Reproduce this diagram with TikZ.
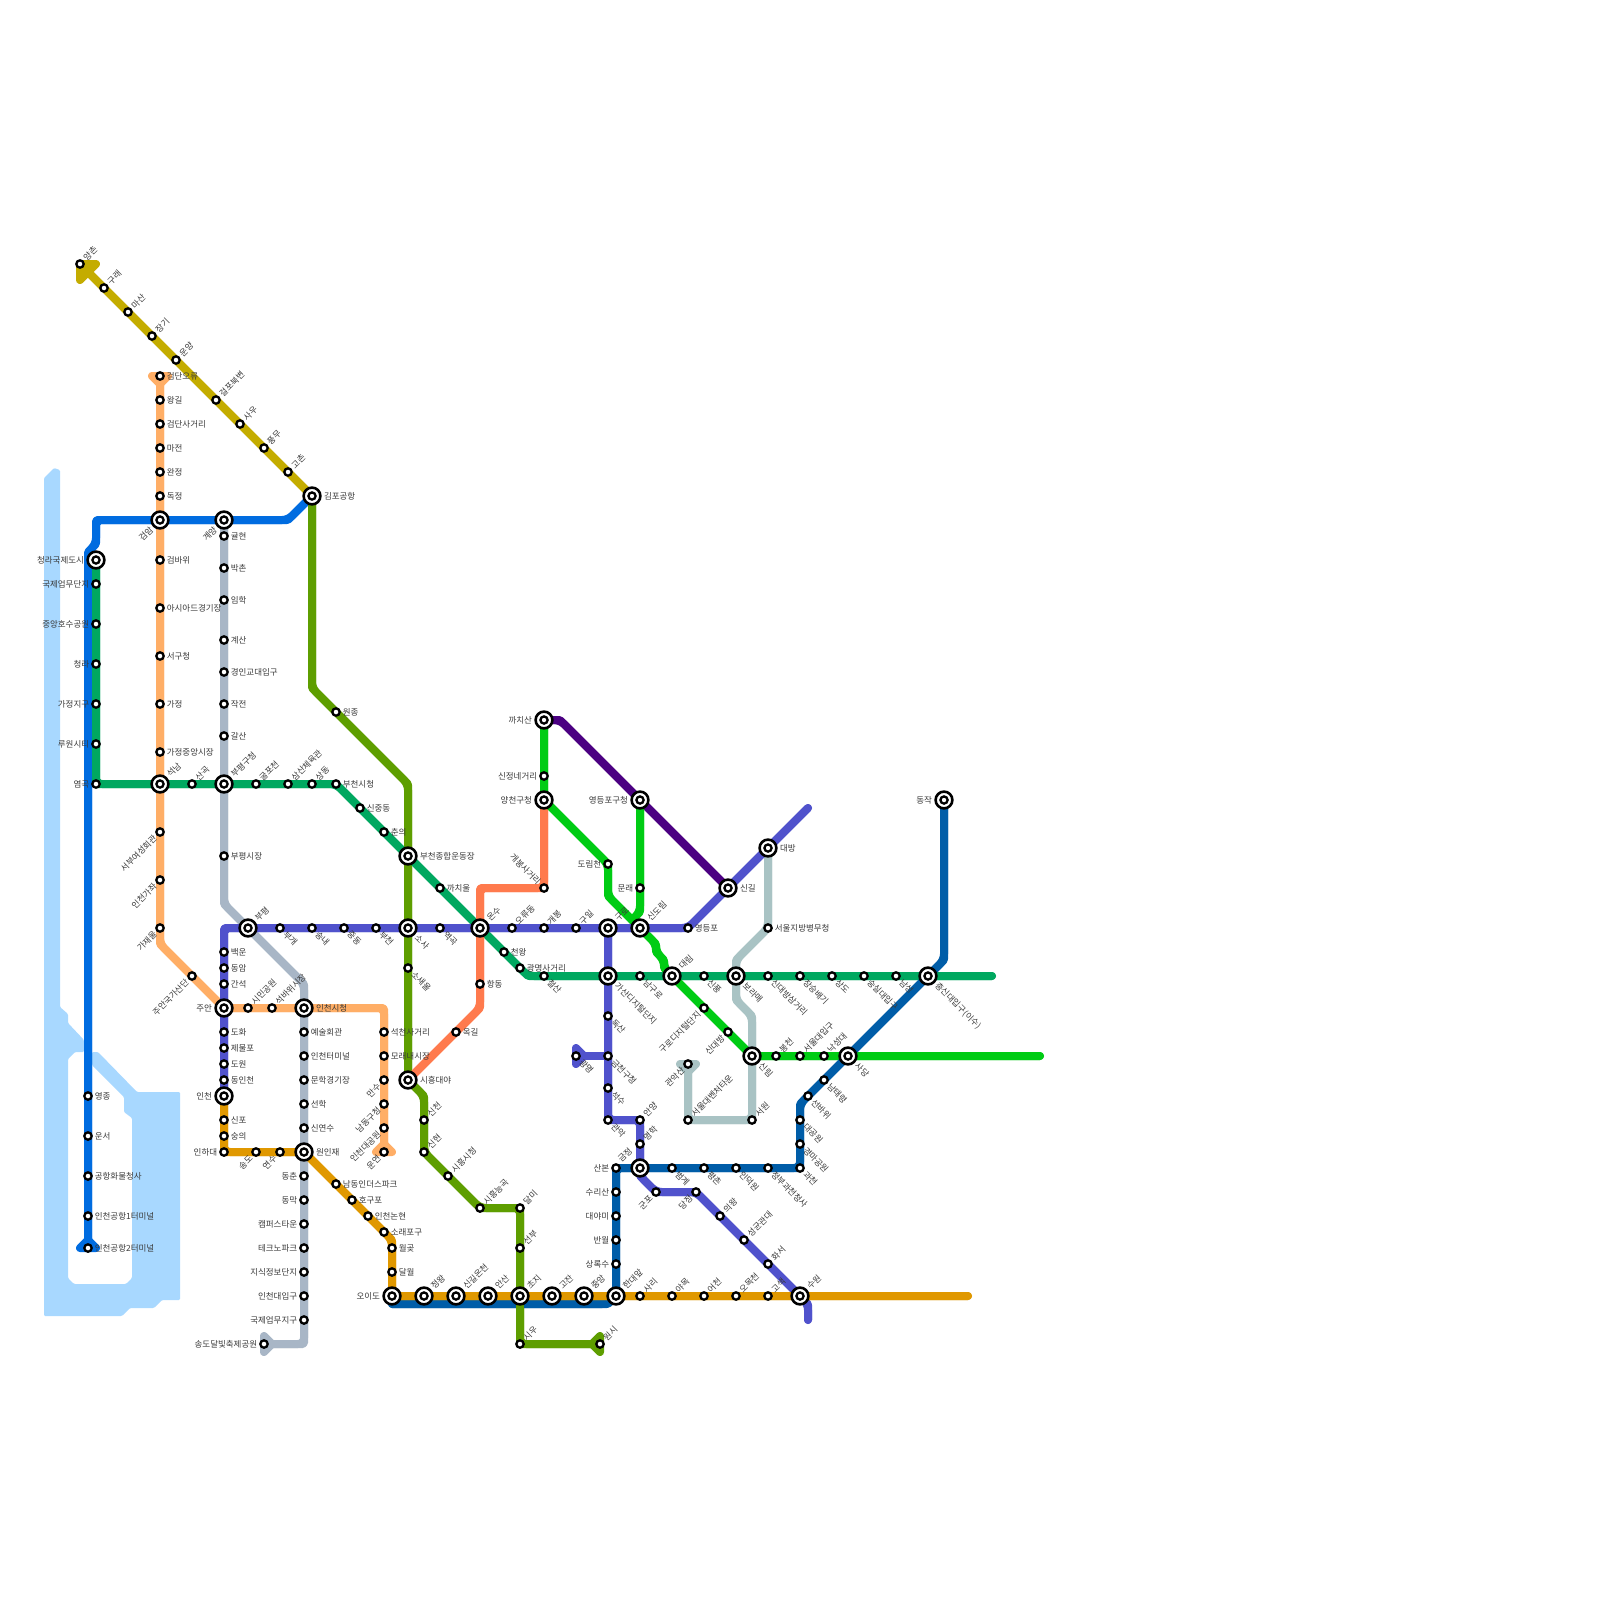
\documentclass[tikz,border=0pt]{standalone}
\usepackage{fontspec}
\newfontfamily\krfont{Noto Sans CJK KR}
\pgfdeclarelayer{lines}
\pgfsetlayers{lines,main}
\definecolor{cwater}{HTML}{A8D8FF}
\definecolor{cgimpo}{HTML}{C4AC00}
\definecolor{corange}{HTML}{FFAE66}
\definecolor{cinc}{HTML}{A8B6C6}
\definecolor{cone}{HTML}{5052CC}
\definecolor{cseven}{HTML}{00A860}
\definecolor{cair}{HTML}{006CE0}
\definecolor{ctwo}{HTML}{00CC14}
\definecolor{cseo}{HTML}{5E9E00}
\definecolor{ccoral}{HTML}{FF7A4D}
\definecolor{cfive}{HTML}{4B0082}
\definecolor{cfour}{HTML}{005DA8}
\definecolor{csil}{HTML}{A9C3C4}
\definecolor{csu}{HTML}{E09800}
\definecolor{ctext}{HTML}{3A3A3A}
\tikzset{
 stn/.style={circle,draw=black,fill=white,line width=1.15pt,minimum size=3.7pt,inner sep=0pt,outer sep=0pt},
 xfr/.style={circle,draw=black,fill=white,line width=1.3pt,minimum size=8.4pt,inner sep=0pt,outer sep=0pt,
   path picture={\draw[black,line width=1.15pt,fill=white] (path picture bounding box.center) circle (1.8pt);}},
 lbl/.style={font=\krfont\fontsize{4.25pt}{5pt}\selectfont,text=ctext,inner sep=0pt,outer sep=0pt},
 lR/.style={anchor=west,xshift=#1},
 lL/.style={anchor=east,xshift=-#1},
 lUR/.style={rotate=45,anchor=west,xshift=#1},
 lDR/.style={rotate=-45,anchor=west,xshift=#1},
 lDL/.style={rotate=45,anchor=east,xshift=-#1},
 lUL/.style={rotate=-45,anchor=east,xshift=-#1},
 lGJ/.style={xshift=-7.5pt,yshift=6.5pt,rotate=45},
 mline/.style={line width=4pt,line cap=round,line join=round},
 flarefill/.style={line width=4pt,line join=round},
}
\newcommand\st[5]{\node[stn] (#1) at (#2,#3) {}; \node[lbl,l#4=3.4pt] (#1t) at (#2,#3) {#5};}
\newcommand\xf[5]{\node[xfr] (#1) at (#2,#3) {}; \node[lbl,l#4=6pt] (#1t) at (#2,#3) {#5};}
\newcommand\metro[2]{\draw[mline,#1,rounded corners=0.6pt] #2; \draw[mline,#1,rounded corners=3pt] #2;}
\newcommand\flare[2]{\draw[flarefill,draw=#1,fill=#1] #2;}
\begin{document}
\begin{tikzpicture}[x=0.5pt,y=-0.5pt]
% Gimpo
\st{yangchon}{80}{264}{UR}{양촌}
\st{gurae}{104}{288}{UR}{구래}
\st{masan}{128}{312}{UR}{마산}
\st{janggi}{152}{336}{UR}{장기}
\st{unyang}{176}{360}{UR}{운양}
\st{geolpo}{216}{400}{UR}{걸포북변}
\st{sau}{240}{424}{UR}{사우}
\st{pungmu}{264}{448}{UR}{풍무}
\st{gochon}{288}{472}{UR}{고촌}
\xf{gimpo}{312}{496}{R}{김포공항}
% Seoul line 2 orange (Incheon 2)
\st{ory}{160}{376}{R}{검단오류}
\st{wanggil}{160}{400}{R}{왕길}
\st{gds}{160}{424}{R}{검단사거리}
\st{majeon}{160}{448}{R}{마전}
\st{wanjeong}{160}{472}{R}{완정}
\st{dokjeong}{160}{496}{R}{독정}
\xf{geomam}{160}{520}{DL}{검암}
\st{geombawi}{160}{560}{R}{검바위}
\st{asiad}{160}{608}{R}{아시아드경기장}
\st{seogu}{160}{656}{R}{서구청}
\st{gajeong}{160}{704}{R}{가정}
\st{gjjm}{160}{752}{R}{가정중앙시장}
\xf{seoknam}{160}{784}{UR}{석남}
\st{seobu}{160}{832}{DL}{서부여성회관}
\st{gajwa}{160}{880}{DL}{인천가좌}
\st{gajaeul}{160}{928}{DL}{가재울}
\st{juangs}{192}{976}{DL}{주안국가산단}
\xf{juan}{224}{1008}{L}{주안}
\st{simin}{248}{1008}{UR}{시민공원}
\st{seokbawi}{272}{1008}{UR}{석바위시장}
\xf{icityhall}{304}{1008}{R}{인천시청}
\st{seokcheon}{384}{1032}{R}{석천사거리}
\st{moraenae}{384}{1056}{R}{모래내시장}
\st{mansu}{384}{1080}{DL}{만수}
\st{namdong}{384}{1104}{DL}{남동구청}
\st{idp}{384}{1128}{DL}{인천대공원}
\st{unyeon}{384}{1152}{DL}{운연}
% Airport
\xf{gyeyang}{224}{520}{DL}{계양}
\xf{cheongnaic}{96}{560}{L}{청라국제도시}
\st{yeongjong}{88}{1096}{R}{영종}
\st{unseo}{88}{1136}{R}{운서}
\st{cargo}{88}{1176}{R}{공항화물청사}
\st{tone}{88}{1216}{R}{인천공항1터미널}
\st{ttwo}{88}{1248}{R}{인천공항2터미널}
% Line 7
\st{gukje}{96}{584}{L}{국제업무단지}
\st{hosu}{96}{624}{L}{중앙호수공원}
\st{cheongna}{96}{664}{L}{청라}
\st{gjjigu}{96}{704}{L}{가정지구}
\st{ruwon}{96}{744}{L}{루원시티}
\st{yeomgok}{96}{784}{L}{염곡}
\st{sangok}{192}{784}{UR}{산곡}
\xf{bupyeonggu}{224}{784}{UR}{부평구청}
\st{gulpo}{256}{784}{UR}{굴포천}
\st{samsan}{288}{784}{UR}{삼산체육관}
\st{sangdong}{312}{784}{UR}{상동}
\st{bucheoncity}{336}{784}{R}{부천시청}
\st{sinjung}{360}{808}{R}{신중동}
\st{chunui}{384}{832}{R}{춘의}
\xf{bustadium}{408}{856}{R}{부천종합운동장}
\st{kkachi}{440}{888}{R}{까치울}
\xf{onsu}{480}{928}{UR}{온수}
\st{cheonwang}{504}{952}{R}{천왕}
\st{gmsa}{520}{968}{R}{광명사거리}
\st{cheolsan}{544}{976}{DR}{철산}
\xf{gasan}{608}{976}{DR}{가산디지털단지}
\st{namguro}{640}{976}{DR}{남구로}
\xf{daerim}{672}{976}{UR}{대림}
\st{sinpung}{704}{976}{DR}{신풍}
\xf{boramae}{736}{976}{DR}{보라매}
\st{sdbs}{768}{976}{DR}{신대방삼거리}
\st{jangseung}{800}{976}{DR}{장승배기}
\st{sangdo}{832}{976}{DR}{상도}
\st{soongsil}{864}{976}{DR}{숭실대입구}
\st{namseong}{896}{976}{DR}{남성}
\xf{isu}{928}{976}{DR}{총신대입구(이수)}
\coordinate (sevenend) at (992,976);
% Incheon 1
\st{gyulhyeon}{224}{536}{R}{귤현}
\st{bakchon}{224}{568}{R}{박촌}
\st{imhak}{224}{600}{R}{임학}
\st{gyesan}{224}{640}{R}{계산}
\st{gyeongin}{224}{672}{R}{경인교대입구}
\st{jakjeon}{224}{704}{R}{작전}
\st{galsan}{224}{736}{R}{갈산}
\st{bpmarket}{224}{856}{R}{부평시장}
\xf{bupyeong}{248}{928}{UR}{부평}
\st{art}{304}{1032}{R}{예술회관}
\st{iterm}{304}{1056}{R}{인천터미널}
\st{munhak}{304}{1080}{R}{문학경기장}
\st{seonhak}{304}{1104}{R}{선학}
\st{sinyeonsu}{304}{1128}{R}{신연수}
\xf{woninjae}{304}{1152}{R}{원인재}
\st{dongchun}{304}{1176}{L}{동춘}
\st{dongmak}{304}{1200}{L}{동막}
\st{campus}{304}{1224}{L}{캠퍼스타운}
\st{techno}{304}{1248}{L}{테크노파크}
\st{jisik}{304}{1272}{L}{지식정보단지}
\st{incheonu}{304}{1296}{L}{인천대입구}
\st{gukjeupmu}{304}{1320}{L}{국제업무지구}
\st{dalbit}{264}{1344}{L}{송도달빛축제공원}
% Line 1
\st{baegun}{224}{952}{R}{백운}
\st{dongam}{224}{968}{R}{동암}
\st{ganseok}{224}{984}{R}{간석}
\st{dohwa}{224}{1032}{R}{도화}
\st{jemulpo}{224}{1048}{R}{제물포}
\st{dowon}{224}{1064}{R}{도원}
\st{dongincheon}{224}{1080}{R}{동인천}
\xf{incheon}{224}{1096}{L}{인천}
\st{bugae}{280}{928}{DR}{부개}
\st{songnae}{312}{928}{DR}{송내}
\st{jungdong}{344}{928}{DR}{중동}
\st{bucheon}{376}{928}{DR}{부천}
\xf{sosa}{408}{928}{DR}{소사}
\st{yeokgok}{440}{928}{DR}{역곡}
\st{oryu}{512}{928}{UR}{오류동}
\st{gaebong}{544}{928}{UR}{개봉}
\st{guil}{576}{928}{UR}{구일}
\xf{guro}{608}{928}{UR}{구로}
\xf{sindorim}{640}{928}{UR}{신도림}
\st{yeongdeungpo}{688}{928}{R}{영등포}
\xf{singil}{728}{888}{R}{신길}
\xf{daebang}{768}{848}{R}{대방}
\coordinate (oneend) at (808,808);
\st{doksan}{608}{1016}{DR}{독산}
\st{geumcheon}{608}{1056}{DR}{금천구청}
\st{seoksu}{608}{1088}{DR}{석수}
\st{gwanak}{608}{1120}{DR}{관악}
\st{anyang}{640}{1120}{UR}{안양}
\st{myeonghak}{640}{1144}{UR}{명학}
\xf{geumjeong}{640}{1168}{GJ}{금정}
\st{gunpo}{656}{1192}{DL}{군포}
\st{dangjeong}{696}{1192}{DL}{당정}
\st{uiwang}{720}{1216}{UR}{의왕}
\st{skku}{744}{1240}{UR}{성균관대}
\st{hwaseo}{768}{1264}{UR}{화서}
\xf{suwon}{800}{1296}{UR}{수원}
\coordinate (suwonend) at (808,1320);
\st{gwangmyeong}{576}{1056}{DR}{광명}
% Line 2 branches
\xf{kkachisan}{544}{720}{L}{까치산}
\st{sinjeong}{544}{776}{L}{신정네거리}
\xf{yangcheon}{544}{800}{L}{양천구청}
\st{dorimcheon}{608}{864}{L}{도림천}
\xf{ydpgu}{640}{800}{L}{영등포구청}
\st{mullae}{640}{888}{L}{문래}
\st{gurodi}{704}{1008}{DL}{구로디지털단지}
\st{sindaebang}{728}{1032}{DL}{신대방}
\xf{sillim}{752}{1056}{DR}{신림}
\st{bongcheon}{776}{1056}{UR}{봉천}
\st{snu}{800}{1056}{UR}{서울대입구}
\st{nakseongdae}{824}{1056}{UR}{낙성대}
\xf{sadang}{848}{1056}{DR}{사당}
\coordinate (twoend) at (1040,1056);
% Sillim
\st{byeongmu}{768}{928}{R}{서울지방병무청}
\st{seowon}{752}{1120}{UR}{서원}
\st{venture}{688}{1120}{UR}{서울대벤처타운}
\st{gwanaksan}{688}{1064}{DL}{관악산}
% Line 4
\xf{dongjak}{944}{800}{L}{동작}
\st{namtaeryeong}{824}{1080}{DR}{남태령}
\st{seonbawi}{808}{1096}{DR}{선바위}
\st{grandpark}{800}{1120}{DR}{대공원}
\st{racepark}{800}{1144}{DR}{경마공원}
\st{gwacheon}{800}{1168}{DR}{과천}
\st{gov}{768}{1168}{DR}{정부과천청사}
\st{indeogwon}{736}{1168}{DR}{인덕원}
\st{pyeongchon}{704}{1168}{DR}{평촌}
\st{beomgye}{672}{1168}{DR}{범계}
\st{sanbon}{616}{1168}{L}{산본}
\st{surisan}{616}{1192}{L}{수리산}
\st{daeyami}{616}{1216}{L}{대야미}
\st{banwol}{616}{1240}{L}{반월}
\st{sangnoksu}{616}{1264}{L}{상록수}
\xf{handae}{616}{1296}{UR}{한대앞}
% Suin
\st{sinpo}{224}{1120}{R}{신포}
\st{sungui}{224}{1136}{R}{숭의}
\st{inha}{224}{1152}{L}{인하대}
\st{songdo}{256}{1152}{DL}{송도}
\st{yeonsu}{280}{1152}{DL}{연수}
\st{namdongip}{336}{1184}{R}{남동인더스파크}
\st{hogupo}{352}{1200}{R}{호구포}
\st{nonhyeon}{368}{1216}{R}{인천논현}
\st{soraepo}{384}{1232}{R}{소래포구}
\st{wolgot}{392}{1248}{R}{월곶}
\st{dalwol}{392}{1272}{R}{달월}
\xf{oido}{392}{1296}{L}{오이도}
\xf{jeongwang}{424}{1296}{UR}{정왕}
\xf{singiloncheon}{456}{1296}{UR}{신길온천}
\xf{ansan}{488}{1296}{UR}{안산}
\xf{choji}{520}{1296}{UR}{초지}
\xf{gojan}{552}{1296}{UR}{고잔}
\xf{jungang}{584}{1296}{UR}{중앙}
\st{sari}{640}{1296}{UR}{사리}
\st{yamok}{672}{1296}{UR}{야목}
\st{eocheon}{704}{1296}{UR}{어천}
\st{omokcheon}{736}{1296}{UR}{오목천}
\st{gosaek}{768}{1296}{UR}{고색}
\coordinate (suinend) at (968,1296);
% Seohae
\st{wonjong}{336}{712}{R}{원종}
\st{sosaeul}{408}{968}{DR}{소새울}
\xf{daeya}{408}{1080}{R}{시흥대야}
\st{sincheon}{424}{1120}{UR}{신천}
\st{sinhyeon}{424}{1152}{UR}{신현}
\st{shcity}{448}{1176}{UR}{시흥시청}
\st{neunggok}{480}{1208}{UR}{시흥능곡}
\st{dalmi}{520}{1208}{UR}{달미}
\st{seonbu}{520}{1248}{UR}{선부}
\st{siu}{520}{1344}{UR}{시우}
\st{wonsi}{600}{1344}{UR}{원시}
% Coral
\st{gbsa}{544}{888}{UL}{개봉사거리}
\st{hangdong}{480}{984}{R}{항동}
\st{okgil}{456}{1032}{R}{옥길}

\begin{pgfonlayer}{lines}
\path[use as bounding box,fill=white] (0,0) rectangle (1600,1600);
% water
\fill[cwater,rounded corners=0.6pt] (44,478) -- (54,468) -- (60,470) -- (60,1007) -- (68,1014) -- (68,1023) -- (84,1040) -- (84,1052) -- (75,1052) -- (68,1059) -- (68,1278) -- (74,1284) -- (126,1284) -- (132,1278) -- (132,1118) -- (124,1112) -- (124,1097) -- (92,1065) -- (92,1052) -- (98,1052) -- (137,1092) -- (180,1092) -- (180,1300) -- (162,1300) -- (154,1308) -- (130,1308) -- (122,1316) -- (44,1316) -- cycle;
% Incheon 1
\metro{cinc}{(gyeyang.center) -- (224,904) -- (304,984) -- (304,1344) -- (dalbit.center)}
\flare{cinc}{(264,1336) -- (264,1352) -- (272,1344) -- cycle}
% Gimpo
\metro{cgimpo}{(yangchon.center) -- (gimpo.center)}
\flare{cgimpo}{(80,264) -- (96,264) -- (80,280) -- cycle}
% Orange
\metro{corange}{(ory.center) -- (160,944) -- (juan.center) -- (384,1008) -- (unyeon.center)}
\flare{corange}{(152,376) -- (168,376) -- (160,384) -- cycle}
\flare{corange}{(376,1152) -- (392,1152) -- (384,1144) -- cycle}
% Airport
\metro{cair}{(gimpo.center) -- (288,520) -- (96,520) -- (96,544) -- (88,552) -- (ttwo.center)}
\flare{cair}{(80,1248) -- (96,1248) -- (88,1240) -- cycle}
% Seohae
\metro{cseo}{(gimpo.center) -- (312,688) -- (408,784) -- (daeya.center) -- (424,1096) -- (sinhyeon.center) -- (neunggok.center) -- (dalmi.center) -- (siu.center) -- (wonsi.center)}
\flare{cseo}{(600,1336) -- (600,1352) -- (592,1344) -- cycle}
% Line 7
\metro{cseven}{(cheongnaic.center) -- (yeomgok.center) -- (bucheoncity.center) -- (528,976) -- (sevenend)}
% Sillim
\metro{csil}{(gwanaksan.center) -- (venture.center) -- (seowon.center) -- (752,1016) -- (736,1000) -- (736,960) -- (byeongmu.center) -- (daebang.center)}
\flare{csil}{(680,1064) -- (696,1064) -- (688,1072) -- cycle}
% Coral
\metro{ccoral}{(yangcheon.center) -- (gbsa.center) -- (480,888) -- (480,1008) -- (daeya.center)}
% Line 5
\metro{cfive}{(kkachisan.center) -- (560,720) -- (singil.center)}
% Line 2 branches
\metro{ctwo}{(kkachisan.center) -- (yangcheon.center) -- (dorimcheon.center) -- (608,896) -- (sindorim.center) -- (656,944) -- (656,952) -- (664,960) -- (664,968) -- (daerim.center) -- (sillim.center) -- (twoend)}
\metro{ctwo}{(ydpgu.center) -- (640,912) -- (632,920)}
% Line 1
\metro{cone}{(incheon.center) -- (224,928) -- (yeongdeungpo.center) -- (oneend)}
\metro{cone}{(guro.center) -- (gwanak.center) -- (anyang.center) -- (640,1176) -- (gunpo.center) -- (dangjeong.center) -- (suwon.center) -- (808,1304) -- (suwonend)}
\metro{cone}{(geumcheon.center) -- (gwangmyeong.center)}
\flare{cone}{(576,1048) -- (576,1064) -- (584,1056) -- cycle}
% Line 4
\metro{cfour}{(dongjak.center) -- (944,960) -- (800,1104) -- (gwacheon.center) -- (sanbon.center) -- (handae.center) -- (608,1304) -- (392,1304)}
% Suin
\metro{csu}{(incheon.center) -- (inha.center) -- (woninjae.center) -- (392,1240) -- (oido.center) -- (suinend)}
% Seohae over line 4
\metro{cseo}{(choji.center) -- (siu.center)}
\end{pgfonlayer}
\end{tikzpicture}
\end{document}
